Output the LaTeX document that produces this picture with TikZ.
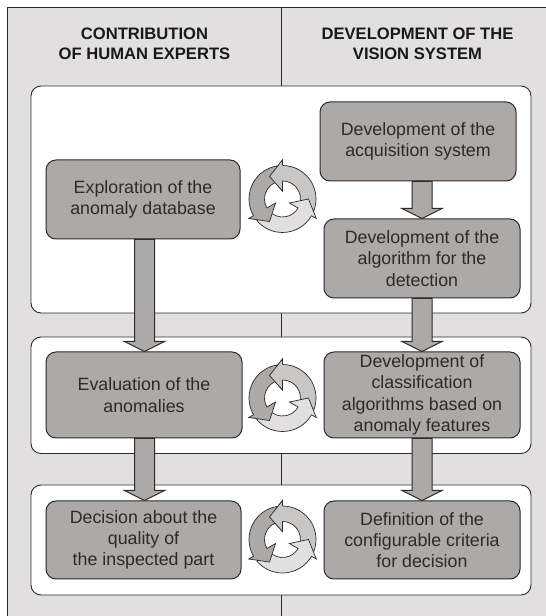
\documentclass[tikz,border=0pt]{standalone}
\usepackage{fontspec}
\setmainfont{Liberation Sans}
\usetikzlibrary{calc}
\definecolor{bandgray}{HTML}{E1DFE0}
\definecolor{boxgray}{HTML}{ADA9A7}
\definecolor{midgray}{HTML}{C9C7C5}
\definecolor{inkdark}{HTML}{2B2B2B}
\tikzset{
  stepbox/.style={draw=inkdark,fill=boxgray,line width=1pt,rounded corners=10pt,align=center,inner sep=0pt,text=inkdark,font=\fontsize{17.8}{21.3}\selectfont},
  header/.style={align=center,inner sep=0pt,text=black!90,font=\fontsize{16.6}{20}\selectfont\bfseries},
  panel/.style={draw=inkdark,fill=white,line width=0.9pt,rounded corners=10pt},
  frame/.style={draw=inkdark,line width=1pt},
  flow/.style={draw=inkdark,fill=boxgray,line width=1pt,line join=miter},
  cyc/.style={draw=inkdark,line width=0.7pt,line join=miter}
}
\newcommand{\blockarrow}[3]{%
  \coordinate (col) at (#3,0);
  \coordinate (s) at (#1.south -| col);
  \coordinate (t) at (#2.north -| col);
  \draw[flow] ([xshift=-10pt]s) -- ([shift={(-10pt,10pt)}]t) -- ([shift={(-20pt,10pt)}]t) -- (t)
    -- ([shift={(20pt,10pt)}]t) -- ([shift={(10pt,10pt)}]t) -- ([xshift=10pt]s) -- cycle;
}
\newcommand{\onearrow}[2]{% angle, colour
  \draw[cyc,fill=#2] (#1+30:26) -- (#1:39) -- (#1:33.5)
    arc[start angle=#1,end angle=#1-110,radius=33.5pt]
    -- (#1-110:18)
    arc[start angle=#1-110,end angle=#1,radius=18pt]
    -- (#1:8) -- cycle;
}
\newcommand{\cycleicon}[2]{%
  \begin{scope}[shift={(#1,616-#2)}]
    \onearrow{90}{midgray}
    \onearrow{-30}{bandgray}
    \onearrow{-150}{boxgray}
    \fill[midgray] (120:26) -- (90:39) -- (90:8) -- cycle;
    \draw[cyc] (90:33.5) -- (90:39) -- (120:26) -- (90:8) -- (90:18);
  \end{scope}
}
\begin{document}
\begin{tikzpicture}[x=1pt,y=1pt]
\useasboundingbox (0,0) rectangle (546,616);
\fill[white] (0,0) rectangle (546,616);
\fill[bandgray] (7,0) rectangle (546,616-8);
\draw[frame] (7,0) -- (7,616-8) -- (546,616-8);
\draw[frame] (281,0) -- (281,616-8);
\draw[panel] (31,616-86) rectangle (531,616-313);
\draw[panel] (31,616-337) rectangle (531,616-453.5);
\draw[panel] (31,616-485) rectangle (531,616-595);
\node[header] (hl) at (144.5,616-44) {CONTRIBUTION\\OF HUMAN EXPERTS};
\node[header] (hr) at (417.5,616-44) {DEVELOPMENT OF THE\\VISION SYSTEM};
\node[stepbox,minimum width=194pt,minimum height=79pt] (explore) at (143,616-199.5) {Exploration of the\\anomaly database};
\node[stepbox,minimum width=196pt,minimum height=79pt] (acq) at (418,616-141.5) {Development of the\\acquisition system};
\node[stepbox,minimum width=196pt,minimum height=79pt] (algo) at (422,616-258.5) {Development of the\\algorithm for the\\detection};
\node[stepbox,minimum width=196pt,minimum height=86pt] (eval) at (144,616-395) {Evaluation of the\\anomalies};
\node[stepbox,minimum width=196pt,minimum height=86pt] (classif) at (422,616-395) {Development of\\classification\\algorithms based on\\anomaly features};
\node[stepbox,minimum width=195pt,minimum height=78pt] (decide) at (143.5,616-540) {Decision about the\\quality of\\the inspected part};
\node[stepbox,minimum width=196pt,minimum height=78pt] (criteria) at (422,616-540) {Definition of the\\configurable criteria\\for decision};
\blockarrow{acq}{algo}{422}
\blockarrow{algo}{classif}{422}
\blockarrow{classif}{criteria}{422}
\blockarrow{explore}{eval}{144.5}
\blockarrow{eval}{decide}{144.5}
\cycleicon{282.5}{199}
\cycleicon{282.5}{398}
\cycleicon{282.5}{539.5}
\end{tikzpicture}
\end{document}
